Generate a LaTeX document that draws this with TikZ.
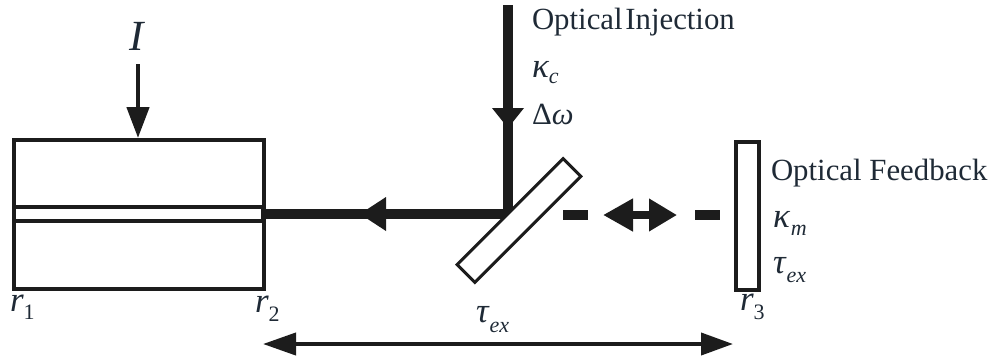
\documentclass[tikz,border=0pt]{standalone}
\usepackage{fontspec}
\setmainfont{Liberation Serif}
\usetikzlibrary{arrows.meta}
\definecolor{ink}{HTML}{1C1C1C}
\definecolor{txt}{HTML}{1F2A36}
\newcommand{\bigsz}{\fontsize{30.8}{31}\selectfont}
\newcommand{\symsz}{\fontsize{35}{35}\selectfont}
\newcommand{\subsz}{\fontsize{22}{22}\selectfont}
\newcommand{\symb}[4][0pt]{{\symsz\itshape #2}\kern#1\raisebox{-#4}{\subsz\itshape #3}}
\tikzset{
  x=1pt,y=-1pt,
  lab/.style={anchor=base west,inner sep=0pt,outer sep=0pt,text=txt,font=\bigsz},
  boxline/.style={draw=ink,line width=3.2pt,fill=white},
  wave/.style={draw=ink,line width=3.8pt},
  beam/.style={draw=ink,line width=9.5pt},
  thinbeam/.style={draw=ink,line width=4.6pt},
  mirror/.style={draw=ink,line width=3pt,fill=white,inner sep=0pt,minimum width=150pt,minimum height=25pt},
  headsmall/.style={-{Triangle[length=31pt,width=22pt,fill=ink]}},
  headdouble/.style={{Triangle[length=30pt,width=31pt,fill=ink]}-{Triangle[length=28pt,width=31pt,fill=ink]}},
}
\begin{document}
\begin{tikzpicture}
\useasboundingbox (0,0) rectangle (994,360);
% coordinates
\coordinate (laserTL) at (14,140);
\coordinate (laserBR) at (264,289);
\coordinate (wgTopL) at (15,207);
\coordinate (wgTopR) at (263,207);
\coordinate (wgBotL) at (15,221);
\coordinate (wgBotR) at (263,221);
\coordinate (currentTop) at (138,64);
\coordinate (currentTip) at (138,138);
\coordinate (injTop) at (508,5);
\coordinate (injTip) at (508,128);
\coordinate (junction) at (508,214);
\coordinate (beamLeft) at (261,214);
\coordinate (beamTip) at (360,214);
\coordinate (dashAa) at (563,215);
\coordinate (dashAb) at (588,215);
\coordinate (dashBa) at (695,215);
\coordinate (dashBb) at (720,215);
\coordinate (dblL) at (603,215);
\coordinate (dblR) at (677,215);
\coordinate (spanL) at (263,344);
\coordinate (spanR) at (733,344);
% laser
\draw[boxline] (laserTL) rectangle (laserBR);
\draw[draw=ink,line width=4.2pt] (laserTL) -- (14,289);
\draw[draw=ink,line width=4.2pt] (12,140) -- (264,140);
\draw[wave] (wgTopL) -- (wgTopR);
\draw[wave] (wgBotL) -- (wgBotR);
% beams
\draw[beam] (injTop) -- (junction);
\path[draw=none,fill=ink] (492,108) -- (524,108) -- (injTip) -- cycle;
\draw[beam,line cap=butt] (beamLeft) -- (junction);
\path[draw=none,fill=ink] (beamTip) -- (386,197) -- (386,231) -- cycle;
% beam splitter
\node[mirror,rotate=45] (splitter) at (519,220.5) {};
% external mirror
\node[boxline,inner sep=0pt,minimum width=23pt,minimum height=148pt] (extmirror) at (747.5,216) {};
% feedback path
\draw[beam] (dashAa) -- (dashAb);
\draw[beam] (dashBa) -- (dashBb);
\draw[draw=ink,line width=8pt,headdouble] (dblL) -- (dblR);
% current arrow
\draw[thinbeam,headsmall] (currentTop) -- (currentTip);
% delay span
\draw[draw=ink,line width=4pt,{Triangle[length=33pt,width=22pt,fill=ink]}-{Triangle[length=32pt,width=22pt,fill=ink]}] (spanL) -- (spanR);
% labels
\node[lab] (txtI) at (129,50) {\fontsize{43}{43}\selectfont\itshape I};
\node[lab] (txtRa) at (10,311) {\symb{r}{\upshape 1}{8pt}};
\node[lab] (txtRb) at (255,312) {\symb{r}{\upshape 2}{9pt}};
\node[lab] (txtRc) at (740,310) {\symb{r}{\upshape 3}{9pt}};
\node[lab] (txtInj) at (532,29) {Optical\kern-5pt\ Injection};
\node[lab] (txtKc) at (532,77) {\symb{κ}{c}{6pt}};
\node[lab] (txtDw) at (532,124) {Δ{\itshape ω}};
\node[lab] (txtTauA) at (476,322) {\symb[1pt]{τ}{ex}{10pt}};
\node[lab] (txtFb) at (771,180) {Optical Feedback};
\node[lab] (txtKm) at (773,227) {\symb[1pt]{κ}{m}{8pt}};
\node[lab] (txtTauB) at (773,273) {\symb[1pt]{τ}{ex}{9pt}};
\end{tikzpicture}
\end{document}
